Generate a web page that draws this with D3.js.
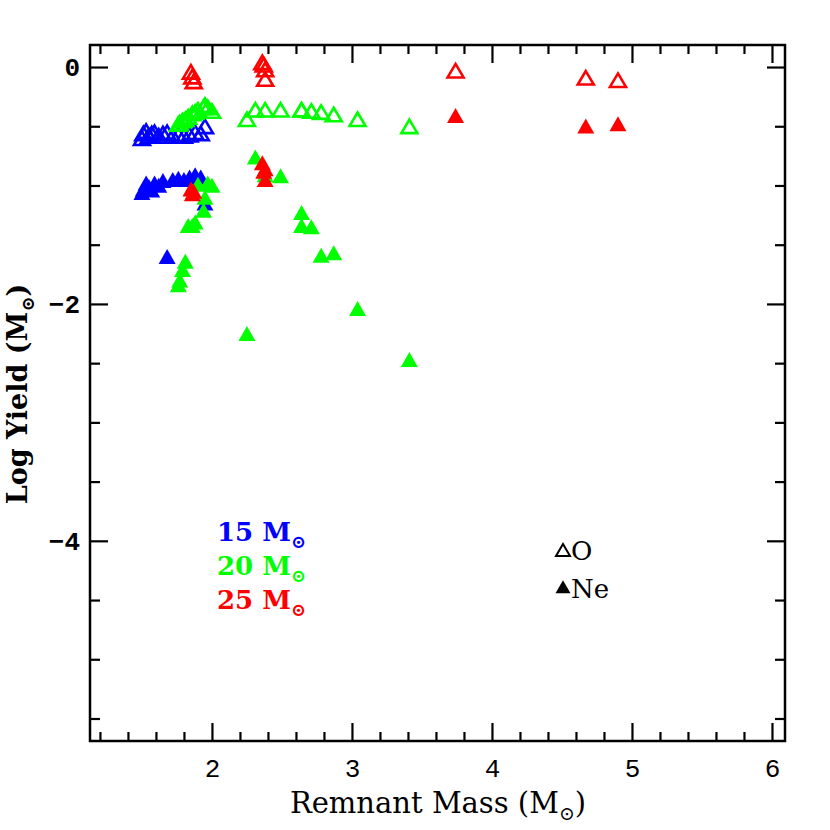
<!DOCTYPE html>
<html>
<head>
<meta charset="utf-8">
<script src="https://cdn.jsdelivr.net/npm/d3@7"></script>
<style>
  body { margin: 0; background: #fff; }
  text { font-family: "Liberation Mono", "DejaVu Sans Mono", monospace; }
  .serif { font-family: "DejaVu Serif", "Liberation Serif", serif; }
</style>
</head>
<body>
<script>
// remnant mass (Msun) and log yield (Msun)
const m15 = [1.50, 1.51, 1.53, 1.55, 1.57, 1.59, 1.62, 1.65, 1.68, 1.72, 1.76, 1.80, 1.84, 1.88, 1.92, 1.95];
const o15 = [-0.62, -0.58, -0.56, -0.60, -0.58, -0.57, -0.60, -0.58, -0.57, -0.60, -0.59, -0.60, -0.59, -0.57, -0.58, -0.52];
const ne15 = [-1.08, -1.05, -1.00, -1.03, -1.06, -1.00, -1.02, -0.98, -1.62, -0.97, -0.96, -0.97, -0.95, -0.93, -0.95, -1.17];

const m20 = [1.76, 1.77, 1.79, 1.81, 1.83, 1.86, 1.88, 1.90, 1.94, 1.95, 1.97, 2.00, 2.25, 2.31, 2.38, 2.49, 2.64, 2.64, 2.71, 2.78, 2.87, 3.04, 3.41];
const o20 = [-0.50, -0.49, -0.47, -0.46, -0.44, -0.41, -0.40, -0.38, -0.36, -0.34, -0.36, -0.39, -0.46, -0.38, -0.38, -0.38, -0.38, -0.38, -0.39, -0.40, -0.42, -0.46, -0.52];
const ne20 = [-1.86, -1.82, -1.73, -1.66, -1.36, -1.36, -1.33, -1.01, -1.23, -1.12, -1.00, -1.02, -2.27, -0.78, -0.93, -0.94, -1.25, -1.36, -1.37, -1.61, -1.59, -2.06, -2.49];

const m25 = [1.85, 1.86, 1.87, 2.36, 2.37, 2.38, 2.38, 3.74, 4.67, 4.90];
const o25 = [-0.06, -0.10, -0.14, 0.02, 0.00, -0.04, -0.12, -0.05, -0.11, -0.13];
const ne25 = [-1.05, -1.09, -1.07, -0.83, -0.90, -0.97, -0.88, -0.43, -0.52, -0.50];

const seriesNames = ["15", "20", "25"];
const seriesColors = ["#0000ff", "#00ff00", "#ff0000"];
const xMajor = [2, 3, 4, 5, 6];
const yMajor = [0, -2, -4];

const width = 830, height = 830;
const margin = {left: 90, right: 45, top: 45, bottom: 89};

const svg = d3.select("body").append("svg")
    .attr("width", width).attr("height", height);

const x = d3.scaleLinear().domain([1.129, 6.093]).range([margin.left, width - margin.right]);
const y = d3.scaleLinear().domain([-5.69, 0.186]).range([height - margin.bottom, margin.top]);

const x0 = margin.left, x1 = width - margin.right, y0 = margin.top, y1 = height - margin.bottom;

// minor ticks
const xMinor = d3.range(1.2, 6.05, 0.2).filter(v => Math.abs(v - Math.round(v)) > 0.01);
const yMinor = d3.range(-5.5, 0.05, 0.5).filter(v => Math.abs(v / 2 - Math.round(v / 2)) > 0.01);

function addAxis(gen, tx, ty, vals, len, labels) {
  const g = svg.append("g").attr("transform", `translate(${tx},${ty})`)
    .call(gen.tickValues(vals).tickSize(-len).tickPadding(labels ? 18 : 0)
      .tickFormat(labels ? (d => d < 0 ? "\u2212" + (-d) : d) : ""));
  g.select(".domain").remove();
  g.selectAll("line").attr("stroke", "#000").attr("stroke-width", 2.2);
  g.selectAll("text").attr("fill", "#000").style("font-size", "26px");
  return g;
}

addAxis(d3.axisBottom(x), 0, y1, xMinor, 9, false);
addAxis(d3.axisBottom(x), 0, y1, xMajor, 18, true);
addAxis(d3.axisTop(x), 0, y0, xMinor, 9, false);
addAxis(d3.axisTop(x), 0, y0, xMajor, 18, false);
addAxis(d3.axisLeft(y), x0, 0, yMinor, 10, false);
const yl = addAxis(d3.axisLeft(y), x0, 0, yMajor, 18, true);
yl.selectAll("text").attr("x", -10).style("font-weight", "bold");
addAxis(d3.axisRight(y), x1, 0, yMinor, 10, false);
addAxis(d3.axisRight(y), x1, 0, yMajor, 18, false);

svg.append("rect")
    .attr("x", x0).attr("y", y0).attr("width", x1 - x0).attr("height", y1 - y0)
    .attr("fill", "none").attr("stroke", "#000").attr("stroke-width", 2.5);

// triangle marker, centred on centroid
function tri(w, h) {
  return `M0,${-2 * h / 3}L${w / 2},${h / 3}L${-w / 2},${h / 3}Z`;
}

const groups = [
  {m: m15, o: o15, ne: ne15},
  {m: m20, o: o20, ne: ne20},
  {m: m25, o: o25, ne: ne25}
];

const plot = svg.append("g");
groups.forEach((s, i) => {
  const c = seriesColors[i];
  plot.selectAll(null).data(s.m.map((d, j) => [d, s.ne[j]])).join("path")
    .attr("d", tri(17, 15))
    .attr("transform", d => `translate(${x(d[0])},${y(d[1])})`)
    .attr("fill", c);
  plot.selectAll(null).data(s.m.map((d, j) => [d, s.o[j]])).join("path")
    .attr("d", tri(16, 13.5))
    .attr("transform", d => `translate(${x(d[0])},${y(d[1])})`)
    .attr("fill", "none").attr("stroke", c).attr("stroke-width", 2.6)
    .attr("stroke-linejoin", "miter");
});

// mass legend
const sun = "\u2299";
seriesNames.forEach((n, i) => {
  const t = svg.append("text").attr("class", "serif")
    .attr("x", 217).attr("y", 541 + i * 34)
    .attr("fill", seriesColors[i])
    .style("font-size", "26px").style("font-weight", "bold");
  t.append("tspan").text(n + " M");
  t.append("tspan").attr("dy", 7).style("font-size", "18px").text(sun);
});

// element legend
const el = svg.append("g");
el.append("path").attr("d", tri(14, 12)).attr("transform", "translate(563,552)")
  .attr("fill", "none").attr("stroke", "#000").attr("stroke-width", 2);
el.append("text").attr("class", "serif").attr("x", 571).attr("y", 560).style("font-size", "26px").text("O");
el.append("path").attr("d", tri(15, 13)).attr("transform", "translate(563,589)").attr("fill", "#000");
el.append("text").attr("class", "serif").attr("x", 571).attr("y", 598).style("font-size", "26px").text("Ne");

// axis titles
const xt = svg.append("text").attr("class", "serif").attr("x", 438).attr("y", 813).attr("text-anchor", "middle")
  .style("font-size", "29px");
xt.append("tspan").text("Remnant Mass (M");
xt.append("tspan").attr("dy", 7).style("font-size", "19px").text(sun);
xt.append("tspan").attr("dy", -7).text(")");

const yt = svg.append("text").attr("class", "serif").attr("transform", "translate(27,394) rotate(-90)")
  .attr("text-anchor", "middle").style("font-size", "27px").style("font-weight", "bold");
yt.append("tspan").text("Log Yield (M");
yt.append("tspan").attr("dy", 7).style("font-size", "18px").text(sun);
yt.append("tspan").attr("dy", -7).text(")");
</script>
</body>
</html>
